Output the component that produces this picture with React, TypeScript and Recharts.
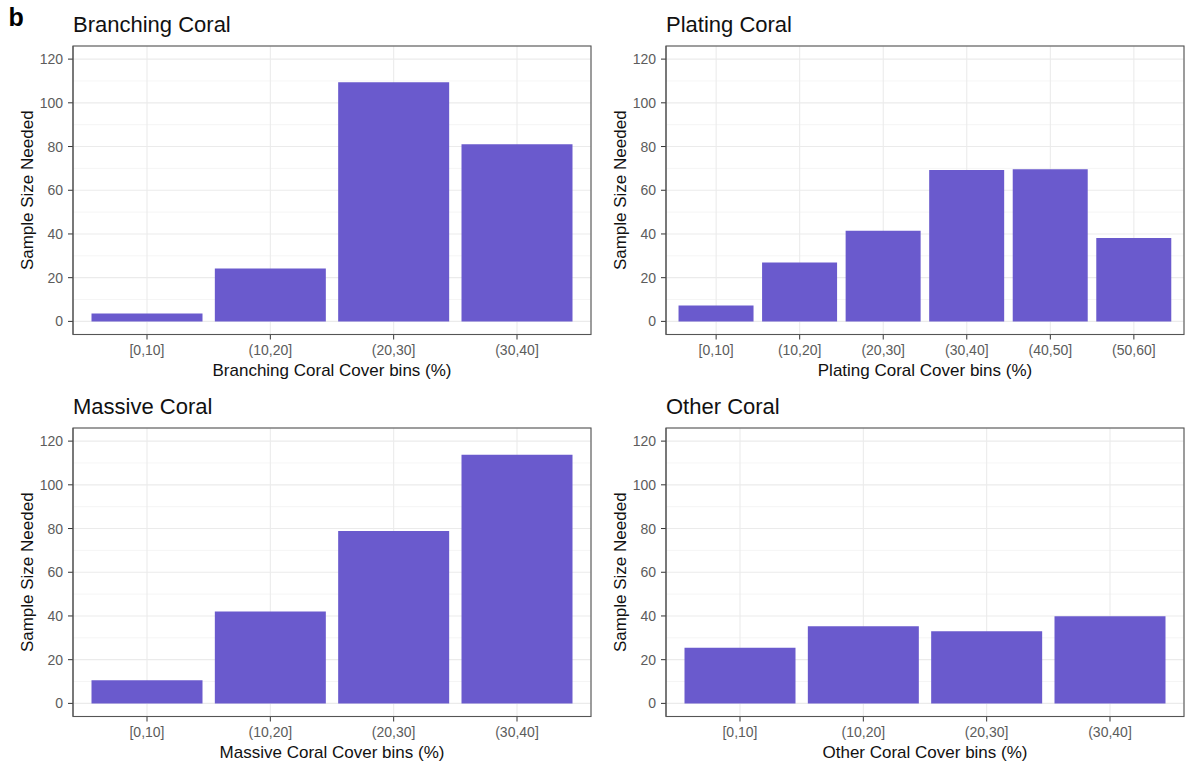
import React from 'react';
import { BarChart, Bar, XAxis, YAxis, CartesianGrid } from 'recharts';

// Bin labels for each panel
const branchingBins = ['[0,10]', '(10,20]', '(20,30]', '(30,40]'];
const platingBins = ['[0,10]', '(10,20]', '(20,30]', '(30,40]', '(40,50]', '(50,60]'];
const massiveBins = ['[0,10]', '(10,20]', '(20,30]', '(30,40]'];
const otherBins = ['[0,10]', '(10,20]', '(20,30]', '(30,40]'];

// Sample size needed
const branchingValues = [3.6, 24.2, 109.4, 81.1];
const platingValues = [7.3, 27, 41.5, 69.3, 69.6, 38.1];
const massiveValues = [10.6, 42, 78.9, 113.8];
const otherValues = [25.5, 35.3, 33.0, 39.9];

const yTicks = [0, 20, 40, 60, 80, 100, 120];
const yMinor = [10, 30, 50, 70, 90, 110];

const FONT = '"Liberation Sans", Arial, Helvetica, sans-serif';
const BAR_COLOR = '#6a5acd';

// plot area inside each panel
const PLOT_X = 73;
const PLOT_Y = 46;
const PLOT_W = 518;
const PLOT_H = 288.5;

interface PanelProps {
  title: string;
  xTitle: string;
  bins: string[];
  values: number[];
  left: number;
  top: number;
  tag?: string;
}

const Panel = ({ title, xTitle, bins, values, left, top, tag }: PanelProps) => {
  const data = bins.map((bin, i) => ({ bin, value: values[i] }));
  const unit = PLOT_W / (bins.length + 0.2);
  const pad = unit * 0.1;

  return (
    <div style={{ position: 'absolute', left, top, width: 594, height: 382 }}>
      <BarChart
        width={594}
        height={382}
        data={data}
        margin={{ top: PLOT_Y, right: 594 - PLOT_X - PLOT_W, left: 28, bottom: 382 - PLOT_Y - PLOT_H - 44 }}
        barCategoryGap="5%"
      >
        <CartesianGrid
          horizontalValues={yMinor}
          vertical={false}
          stroke="#f3f3f3"
          strokeWidth={0.8}
        />
        <CartesianGrid stroke="#ebebeb" strokeWidth={1.1} />
        <XAxis
          dataKey="bin"
          interval={0}
          padding={{ left: pad, right: pad }}
          height={44}
          tickSize={5}
          tickMargin={6}
          axisLine={{ stroke: '#555' }}
          tickLine={{ stroke: '#333' }}
          tick={{ fill: '#5c5c5c', fontSize: 14, fontFamily: FONT }}
          label={{
            content: (p: any) => {
              const vb = p.viewBox;
              return (
                <text
                  x={vb.x + vb.width / 2}
                  y={vb.y + 41}
                  textAnchor="middle"
                  fontSize={17}
                  fontFamily={FONT}
                  fill="#111"
                >
                  {xTitle}
                </text>
              );
            },
          }}
        />
        <YAxis
          type="number"
          domain={[-6, 126]}
          ticks={yTicks}
          allowDataOverflow
          width={45}
          tickSize={5}
          tickMargin={5}
          axisLine={{ stroke: '#555' }}
          tickLine={{ stroke: '#333' }}
          tick={{ fill: '#5c5c5c', fontSize: 14, fontFamily: FONT }}
          label={{
            content: (p: any) => {
              const vb = p.viewBox;
              const cy = vb.y + vb.height / 2;
              return (
                <text
                  x={27}
                  y={cy}
                  transform={`rotate(-90, 27, ${cy})`}
                  textAnchor="middle"
                  dominantBaseline="central"
                  fontSize={17}
                  fontFamily={FONT}
                  fill="#111"
                >
                  Sample Size Needed
                </text>
              );
            },
          }}
        />
        <Bar dataKey="value" fill={BAR_COLOR} isAnimationActive={false} />
      </BarChart>
      {/* panel border, title and tag drawn on top */}
      <svg
        width={594}
        height={382}
        style={{ position: 'absolute', left: 0, top: 0, pointerEvents: 'none' }}
      >
        <rect
          x={PLOT_X}
          y={PLOT_Y}
          width={PLOT_W}
          height={PLOT_H}
          fill="none"
          stroke="#555"
          strokeWidth={1.1}
        />
        {tag && (
          <text x={8.5} y={26} fontSize={25} fontWeight="bold" fontFamily={FONT} fill="#000">
            {tag}
          </text>
        )}
        <text x={PLOT_X} y={32.3} fontSize={22} fontFamily={FONT} fill="#111">
          {title}
        </text>
      </svg>
    </div>
  );
};

const App = () => {
  return (
    <div
      style={{
        position: 'absolute',
        left: 0,
        top: 0,
        width: 1187,
        height: 764,
        background: '#fff',
        overflow: 'hidden',
        fontFamily: FONT,
      }}
    >
      <Panel
        title="Branching Coral"
        xTitle="Branching Coral Cover bins (%)"
        bins={branchingBins}
        values={branchingValues}
        left={0}
        top={0}
        tag="b"
      />
      <Panel
        title="Plating Coral"
        xTitle="Plating Coral Cover bins (%)"
        bins={platingBins}
        values={platingValues}
        left={592.5}
        top={0}
      />
      <Panel
        title="Massive Coral"
        xTitle="Massive Coral Cover bins (%)"
        bins={massiveBins}
        values={massiveValues}
        left={0}
        top={382}
      />
      <Panel
        title="Other Coral"
        xTitle="Other Coral Cover bins (%)"
        bins={otherBins}
        values={otherValues}
        left={592.5}
        top={382}
      />
    </div>
  );
};

export default App;
